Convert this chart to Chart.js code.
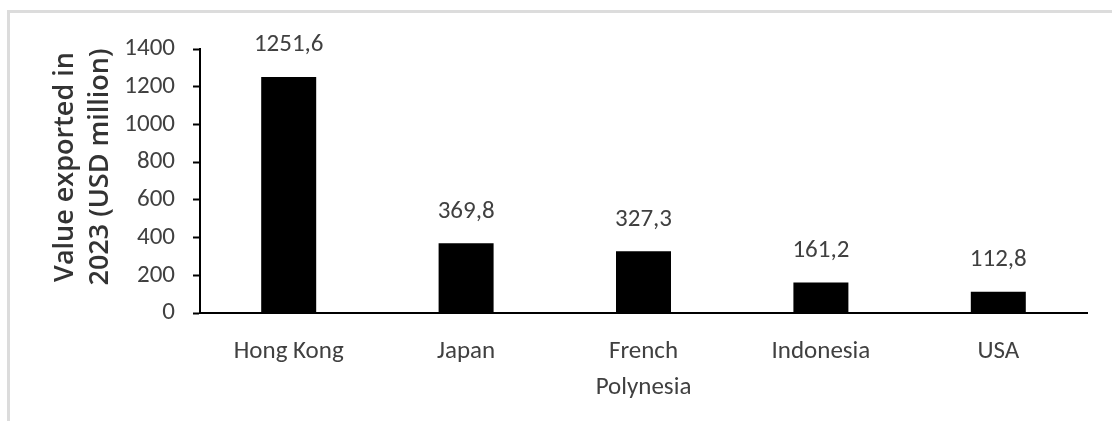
<!DOCTYPE html>
<html>
<head>
<meta charset="utf-8">
<title>Exports 2023</title>
<script src="https://cdn.jsdelivr.net/npm/chart.js@4.4.1/dist/chart.umd.min.js"></script>
<style>
    html, body { margin: 0; padding: 0; background: #fff; }
    #wrap { position: relative; width: 1112px; height: 421px; overflow: hidden; }
    #frame {
        position: absolute; left: 7px; top: 10px; width: 1120px; height: 430px;
        border-top: 3px solid #dcdcdc; border-left: 3px solid #dcdcdc;
    }
    #exportsChart { position: absolute; left: 0; top: 0; }
</style>
</head>
<body>
<div id="wrap">
    <div id="frame"></div>
    <canvas id="exportsChart" width="1112" height="421"></canvas>
</div>
<script>
// destinations and export values (USD million, 2023)
const destinations = ['Hong Kong', 'Japan', ['French', 'Polynesia'], 'Indonesia', 'USA'];
const exportValues = [1251.6, 369.8, 327.3, 161.2, 112.8];
const yAxisMax = 1400;
const yAxisStep = 200;
const yTitleLines = ['Value exported in', '2023 (USD million)'];

const labelFont = "Carlito, 'Liberation Sans Narrow', sans-serif";
const textColor = '#404040';

// value printed above each bar, decimal comma
const barValueLabels = {
    id: 'barValueLabels',
    afterDatasetsDraw(chart) {
        const ctx = chart.ctx;
        const meta = chart.getDatasetMeta(0);
        ctx.save();
        ctx.font = '25px ' + labelFont;
        ctx.fillStyle = textColor;
        ctx.textAlign = 'center';
        ctx.textBaseline = 'middle';
        meta.data.forEach((bar, i) => {
            const txt = exportValues[i].toFixed(1).replace('.', ',');
            ctx.fillText(txt, bar.x, bar.y - 32);
        });
        ctx.restore();
    }
};

// two-line rotated y axis title
const yAxisTitle = {
    id: 'yAxisTitle',
    afterDraw(chart) {
        const ctx = chart.ctx;
        ctx.save();
        ctx.font = "600 27px 'Open Sans', sans-serif";
        ctx.fillStyle = '#333333';
        ctx.textAlign = 'center';
        ctx.textBaseline = 'middle';
        ctx.translate(0, 167);
        ctx.rotate(-Math.PI / 2);
        ctx.fillText(yTitleLines[0], 0, 65);
        ctx.fillText(yTitleLines[1], 0, 100);
        ctx.restore();
    }
};

const ctx = document.getElementById('exportsChart').getContext('2d');
const exportsChart = new Chart(ctx, {
    type: 'bar',
    data: {
        labels: destinations,
        datasets: [{
            data: exportValues,
            backgroundColor: '#000000',
            borderWidth: 0,
            categoryPercentage: 1,
            barPercentage: 0.31
        }]
    },
    options: {
        responsive: false,
        animation: false,
        events: [],
        layout: { padding: { top: 49, right: 25, bottom: 0, left: 0 } },
        plugins: {
            legend: { display: false },
            tooltip: { enabled: false }
        },
        scales: {
            x: {
                grid: { display: false, drawTicks: false },
                border: { display: true, color: '#000000', width: 2 },
                ticks: {
                    color: textColor,
                    padding: 21,
                    maxRotation: 0,
                    autoSkip: false,
                    font: { family: labelFont, size: 25, lineHeight: '36px' }
                },
                afterFit(scale) { scale.height = 108; }
            },
            y: {
                min: 0,
                max: yAxisMax,
                grid: {
                    drawOnChartArea: false,
                    drawTicks: true,
                    tickLength: 7,
                    tickWidth: 2,
                    tickColor: '#000000'
                },
                border: { display: true, color: '#000000', width: 2 },
                ticks: {
                    stepSize: yAxisStep,
                    color: textColor,
                    padding: 18,
                    font: { family: labelFont, size: 25, lineHeight: 1.2 },
                    callback: (value) => String(value)
                },
                afterFit(scale) { scale.width = 200; }
            }
        }
    },
    plugins: [barValueLabels, yAxisTitle]
});
</script>
</body>
</html>
